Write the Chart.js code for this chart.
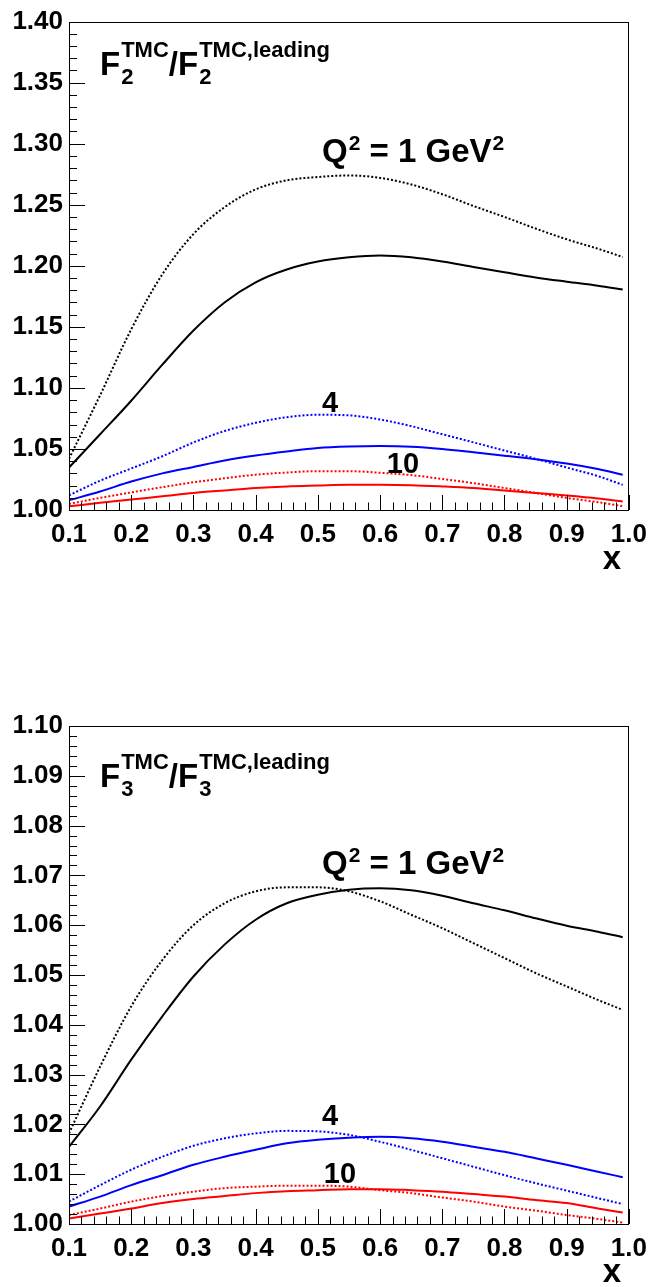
<!DOCTYPE html>
<html><head><meta charset="utf-8">
<script src="https://cdn.jsdelivr.net/npm/chart.js@4.4.0/dist/chart.umd.min.js"></script>
<style>
html,body{margin:0;padding:0;background:#fff;width:656px;height:1287px;overflow:hidden;}
canvas{position:absolute;left:0;}
#c1{top:0;} #c2{top:640px;}
</style></head><body>
<canvas id="c1" width="656" height="620"></canvas>
<canvas id="c2" width="656" height="647"></canvas>
<script>
// ---- data ----
const xValues = [0.10,0.15,0.20,0.25,0.30,0.35,0.40,0.45,0.50,0.55,0.60,0.65,0.70,0.75,0.80,0.85,0.90,0.95,0.99];
const xTicks = [0.1,0.2,0.3,0.4,0.5,0.6,0.7,0.8,0.9,1.0];
const f2YTicks = [1.00,1.05,1.10,1.15,1.20,1.25,1.30,1.35,1.40];
const f3YTicks = [1.00,1.01,1.02,1.03,1.04,1.05,1.06,1.07,1.08,1.09,1.10];

// F2 panel
const f2Q1Dotted = [1.042,1.094,1.148,1.193,1.226,1.248,1.2626,1.270,1.2727,1.274,1.272,1.2666,1.2586,1.249,1.240,1.2305,1.2217,1.214,1.2072];
const f2Q1Solid  = [1.0348,1.062,1.0895,1.119,1.147,1.170,1.1865,1.197,1.2035,1.207,1.2085,1.207,1.2035,1.199,1.1947,1.1905,1.187,1.1837,1.1805];
const f2Q4Dotted = [1.012,1.024,1.034,1.044,1.0553,1.0647,1.0714,1.076,1.078,1.0775,1.0741,1.0687,1.062,1.0554,1.0487,1.042,1.0348,1.0278,1.0206];
const f2Q4Solid  = [1.008,1.0152,1.0233,1.030,1.0353,1.0406,1.0447,1.048,1.0508,1.052,1.0524,1.0519,1.050,1.0473,1.0445,1.0415,1.038,1.0335,1.0289];
const f2Q10Dotted= [1.005,1.0099,1.0144,1.0187,1.0227,1.026,1.0289,1.0307,1.0318,1.0318,1.0305,1.0286,1.0254,1.022,1.018,1.014,1.0099,1.0064,1.0032];
const f2Q10Solid = [1.003,1.0059,1.0086,1.0112,1.0139,1.016,1.018,1.0193,1.020,1.0206,1.0206,1.0203,1.0193,1.018,1.016,1.0139,1.0118,1.0094,1.007];

// F3 panel
const f3Q1Dotted = [1.0182,1.0316,1.0437,1.053,1.060,1.0644,1.0668,1.0676,1.0676,1.0668,1.0648,1.0621,1.0594,1.0564,1.0534,1.0504,1.0477,1.045,1.043];
const f3Q1Solid  = [1.0155,1.0236,1.033,1.0417,1.0497,1.0561,1.0611,1.0644,1.0661,1.0671,1.0674,1.067,1.0659,1.0644,1.063,1.0614,1.0599,1.0587,1.0576];
const f3Q4Dotted = [1.0045,1.0078,1.0109,1.0135,1.0157,1.0172,1.0182,1.0187,1.0186,1.0179,1.0165,1.0149,1.0132,1.0115,1.0098,1.0082,1.0067,1.0052,1.004];
const f3Q4Solid  = [1.0035,1.0055,1.0078,1.0098,1.0119,1.0135,1.0149,1.0162,1.0169,1.0173,1.0175,1.0172,1.0165,1.0155,1.0145,1.0132,1.0119,1.0105,1.0094];
const f3Q10Dotted= [1.0018,1.0031,1.0045,1.0056,1.0065,1.0072,1.0075,1.0077,1.0077,1.0075,1.0068,1.0062,1.0053,1.0045,1.0035,1.0027,1.0018,1.001,1.0003];
const f3Q10Solid = [1.0011,1.0021,1.0031,1.0042,1.005,1.0056,1.0062,1.0066,1.0068,1.007,1.007,1.0068,1.0065,1.006,1.0055,1.0048,1.0042,1.0031,1.0023];

const FONT = '"Liberation Sans", Arial, Helvetica, sans-serif';

function pts(ys){ return xValues.map((x,i)=>({x:x,y:ys[i]})); }
function ds(ys,color,dotted){
  return {data:pts(ys), borderColor:color, borderWidth:2, borderDash: dotted?[2,2]:[],
    showLine:true, pointRadius:0, fill:false, cubicInterpolationMode:'monotone'};
}
function minorVals(majors, n){
  const out=[];
  for(let i=0;i<majors.length-1;i++){
    for(let k=1;k<n;k++) out.push(majors[i]+(majors[i+1]-majors[i])*k/n);
  }
  return out;
}
function drawRich(ctx, x, y, parts, big, small, supOff, subOff){
  ctx.textAlign='left'; ctx.textBaseline='alphabetic';
  for(const p of parts){
    if(p.t!==undefined){
      ctx.font='bold '+big+'px '+FONT; ctx.fillText(p.t,x,y); x+=ctx.measureText(p.t).width;
    } else {
      ctx.font='bold '+small+'px '+FONT; let w=0;
      if(p.sub){ ctx.fillText(p.sub,x+1,y+subOff); w=Math.max(w,ctx.measureText(p.sub).width+1); }
      if(p.sup){ ctx.fillText(p.sup,x+1,y-supOff); w=Math.max(w,ctx.measureText(p.sup).width+1); }
      x+=w;
    }
  }
}

const rootStyle = {
  id:'rootStyle',
  afterDraw(chart, args, o){
    const ctx=chart.ctx, a=chart.chartArea, xs=chart.scales.x, ys=chart.scales.y;
    ctx.save();
    ctx.strokeStyle='#000'; ctx.lineWidth=1; ctx.setLineDash([]);
    ctx.beginPath();
    for(const v of xTicks){ const p=Math.round(xs.getPixelForValue(v))+0.5; ctx.moveTo(p,a.bottom); ctx.lineTo(p,a.bottom-15); }
    for(const v of minorVals(xTicks,5)){ const p=Math.round(xs.getPixelForValue(v))+0.5; ctx.moveTo(p,a.bottom); ctx.lineTo(p,a.bottom-7.5); }
    for(const v of o.yTicks){ const p=Math.round(ys.getPixelForValue(v))+0.5; ctx.moveTo(a.left,p); ctx.lineTo(a.left+16,p); }
    for(const v of minorVals(o.yTicks,5)){ const p=Math.round(ys.getPixelForValue(v))+0.5; ctx.moveTo(a.left,p); ctx.lineTo(a.left+8,p); }
    ctx.stroke();
    ctx.strokeRect(Math.round(a.left)+0.5, Math.round(a.top)+0.5, Math.round(a.width)-1, Math.round(a.height));
    ctx.fillStyle='#000';
    // title
    drawRich(ctx, o.title.x, o.title.y, [{t:'F'},{sub:o.idx,sup:'TMC'},{t:'/F'},{sub:o.idx,sup:'TMC,leading'}], 33, 22, 18, 9);
    // Q2 label
    drawRich(ctx, o.q.x, o.q.y, [{t:'Q'},{sup:'2'},{t:' = 1 GeV'},{sup:'2'}], 33, 21, 12, 0);
    ctx.font='bold 29px '+FONT; ctx.textAlign='center'; ctx.textBaseline='alphabetic';
    ctx.fillText('4', o.l4.x, o.l4.y);
    ctx.fillText('10', o.l10.x, o.l10.y);
    ctx.font='bold 33px '+FONT; ctx.textAlign='right';
    ctx.fillText('x', o.xt.x, o.xt.y);
    ctx.restore();
  }
};

function makeChart(id, series, yTicks, ymin, ymax, padTop, xHeight, deco){
  const fmtY = (v)=>Number(v).toFixed(2);
  return new Chart(document.getElementById(id), {
    type:'scatter',
    data:{datasets:[
      ds(series[0],'#000000',true), ds(series[1],'#000000',false),
      ds(series[2],'#0000ff',true), ds(series[3],'#0000ff',false),
      ds(series[4],'#ff0000',true), ds(series[5],'#ff0000',false)
    ]},
    options:{
      responsive:false, animation:false, devicePixelRatio:1,
      layout:{padding:{left:0,right:19,top:padTop,bottom:0}},
      plugins:{legend:{display:false}, tooltip:{enabled:false}, rootStyle:deco},
      scales:{
        x:{type:'linear', min:0.1, max:1.0,
           grid:{display:false, drawTicks:false}, border:{display:false},
           afterBuildTicks:(s)=>{ s.ticks = xTicks.map(v=>({value:v})); },
           afterFit:(s)=>{ s.height = xHeight; },
           ticks:{autoSkip:false, maxRotation:0, padding:9, color:'#000',
                  font:{family:FONT, size:26, weight:'bold'}, callback:(v)=>Number(v).toFixed(1)}},
        y:{type:'linear', min:ymin, max:ymax,
           grid:{display:false, drawTicks:false}, border:{display:false},
           afterBuildTicks:(s)=>{ s.ticks = yTicks.map(v=>({value:v})); },
           afterFit:(s)=>{ s.width = 69; },
           ticks:{autoSkip:false, padding:6, color:'#000',
                  font:{family:FONT, size:26, weight:'bold'}, callback:fmtY}}
      }
    },
    plugins:[rootStyle]
  });
}

makeChart('c1', [f2Q1Dotted,f2Q1Solid,f2Q4Dotted,f2Q4Solid,f2Q10Dotted,f2Q10Solid], f2YTicks, 1.0, 1.4, 14, 110,
  {yTicks:f2YTicks, idx:'2', title:{x:100,y:75}, q:{x:322,y:162}, l4:{x:330,y:412}, l10:{x:403,y:473}, xt:{x:621,y:569}});
makeChart('c2', [f3Q1Dotted,f3Q1Solid,f3Q4Dotted,f3Q4Solid,f3Q10Dotted,f3Q10Solid], f3YTicks, 1.0, 1.1, 86, 63,
  {yTicks:f3YTicks, idx:'3', title:{x:100,y:147}, q:{x:322,y:234}, l4:{x:330,y:485}, l10:{x:340,y:543}, xt:{x:621,y:642}});
</script>
</body></html>
